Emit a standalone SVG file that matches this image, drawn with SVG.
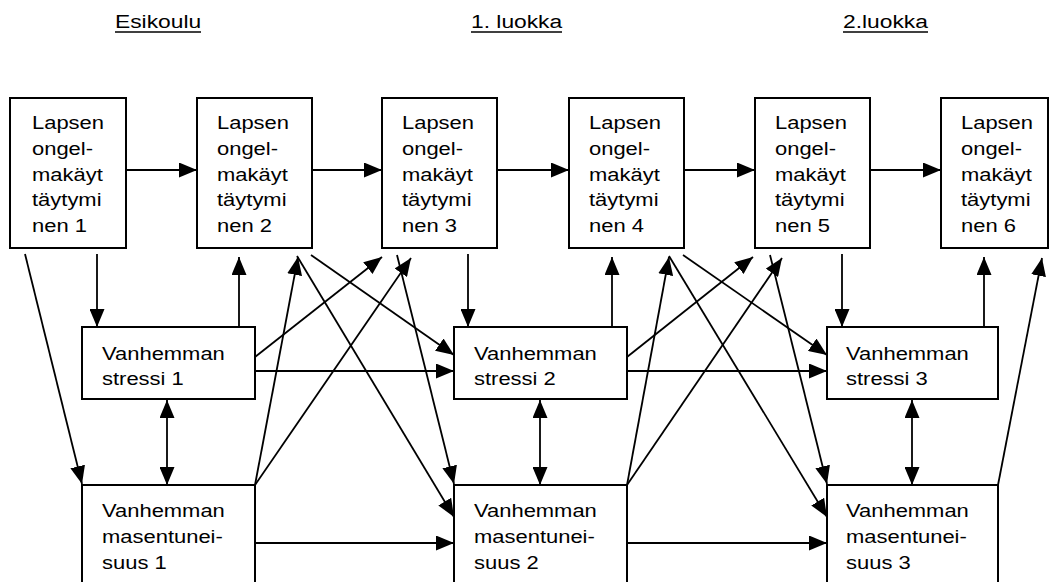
<svg xmlns="http://www.w3.org/2000/svg" width="1050" height="582" viewBox="0 0 1050 582">
  <style>
    .box { fill: #fff; stroke: #000; stroke-width: 2; }
    .t { font-family: "Liberation Sans", Arial, sans-serif; font-size: 18.3px; fill: #000; }
    .h { font-family: "Liberation Sans", Arial, sans-serif; font-size: 19px; fill: #000; }
    .uline { stroke: #000; stroke-width: 1.4; }
    #connectors line { stroke: #000; stroke-width: 1.8; fill: none; marker-end: url(#arrow); }
    #connectors line.both { marker-start: url(#arrow); }
  </style>
  <defs>
    <marker id="arrow" markerUnits="userSpaceOnUse" markerWidth="18" markerHeight="15" refX="18" refY="7.5" orient="auto-start-reverse" viewBox="0 0 18 15">
      <path d="M0,0 L18,7.5 L0,15 z" fill="#000"/>
    </marker>
  </defs>
  <rect width="1050" height="582" fill="#fff"/>

  <!-- period headings -->
  <g id="headings">
    <text class="h" transform="translate(115,0) scale(1.2,1)" y="28">Esikoulu</text>
    <line class="uline" x1="115" y1="32" x2="201" y2="32"/>
    <text class="h" transform="translate(471,0) scale(1.2,1)" y="28">1. luokka</text>
    <line class="uline" x1="471" y1="32" x2="562" y2="32"/>
    <text class="h" transform="translate(843,0) scale(1.2,1)" y="28">2.luokka</text>
    <line class="uline" x1="843" y1="32" x2="928" y2="32"/>
  </g>

  <!-- connectors -->
  <g id="connectors">
    <!-- child problems chain -->
    <line x1="126" y1="170" x2="197" y2="170"/>
    <line x1="312" y1="170" x2="382" y2="170"/>
    <line x1="497" y1="170" x2="569" y2="170"/>
    <line x1="684" y1="170" x2="755" y2="170"/>
    <line x1="870" y1="170" x2="941" y2="170"/>

    <!-- child -> stress (vertical) -->
    <line x1="97" y1="254" x2="97" y2="327"/>
    <line x1="468" y1="254" x2="468" y2="327"/>
    <line x1="842" y1="254" x2="842" y2="327"/>
    <!-- stress -> child (vertical) -->
    <line x1="239" y1="327" x2="239" y2="257"/>
    <line x1="612" y1="327" x2="612" y2="257"/>
    <line x1="984" y1="327" x2="984" y2="257"/>

    <!-- stress <-> depression -->
    <line class="both" x1="167" y1="400" x2="167" y2="485"/>
    <line class="both" x1="540" y1="400" x2="540" y2="485"/>
    <line class="both" x1="912" y1="400" x2="912" y2="485"/>

    <!-- child -> depression, same period -->
    <line x1="25" y1="254" x2="82" y2="484"/>
    <line x1="397" y1="255" x2="454" y2="484"/>
    <line x1="770" y1="255" x2="827" y2="484"/>

    <!-- depression -> next child measurement -->
    <line x1="255" y1="485" x2="298" y2="257"/>
    <line x1="627" y1="485" x2="669" y2="257"/>
    <line x1="998" y1="485" x2="1042" y2="258"/>

    <!-- depression -> child, next period -->
    <line x1="255" y1="485" x2="411" y2="258"/>
    <line x1="627" y1="485" x2="782" y2="258"/>

    <!-- stress -> child, next period -->
    <line x1="255" y1="357" x2="382" y2="257"/>
    <line x1="627" y1="357" x2="753" y2="257"/>

    <!-- child -> stress, next period -->
    <line x1="311" y1="255" x2="454" y2="355"/>
    <line x1="683" y1="255" x2="827" y2="355"/>

    <!-- child -> depression, next period -->
    <line x1="297" y1="256" x2="454" y2="517"/>
    <line x1="669" y1="256" x2="827" y2="517"/>

    <!-- stability paths -->
    <line x1="255" y1="371" x2="454" y2="371"/>
    <line x1="627" y1="371" x2="827" y2="371"/>
    <line x1="255" y1="543" x2="454" y2="543"/>
    <line x1="627" y1="543" x2="827" y2="543"/>
  </g>

  <!-- child problem behaviour nodes -->
  <g id="lapsi1">
    <rect class="box" x="10" y="98" width="116" height="150"/>
    <text class="t" transform="translate(32,0) scale(1.2,1)"><tspan x="0" y="129">Lapsen</tspan><tspan x="0" y="155">ongel-</tspan><tspan x="0" y="181">makäyt</tspan><tspan x="0" y="206">täytymi</tspan><tspan x="0" y="232">nen 1</tspan></text>
  </g>
  <g id="lapsi2">
    <rect class="box" x="197" y="98" width="115" height="150"/>
    <text class="t" transform="translate(217,0) scale(1.2,1)"><tspan x="0" y="129">Lapsen</tspan><tspan x="0" y="155">ongel-</tspan><tspan x="0" y="181">makäyt</tspan><tspan x="0" y="206">täytymi</tspan><tspan x="0" y="232">nen 2</tspan></text>
  </g>
  <g id="lapsi3">
    <rect class="box" x="382" y="98" width="115" height="150"/>
    <text class="t" transform="translate(402,0) scale(1.2,1)"><tspan x="0" y="129">Lapsen</tspan><tspan x="0" y="155">ongel-</tspan><tspan x="0" y="181">makäyt</tspan><tspan x="0" y="206">täytymi</tspan><tspan x="0" y="232">nen 3</tspan></text>
  </g>
  <g id="lapsi4">
    <rect class="box" x="569" y="98" width="115" height="150"/>
    <text class="t" transform="translate(589,0) scale(1.2,1)"><tspan x="0" y="129">Lapsen</tspan><tspan x="0" y="155">ongel-</tspan><tspan x="0" y="181">makäyt</tspan><tspan x="0" y="206">täytymi</tspan><tspan x="0" y="232">nen 4</tspan></text>
  </g>
  <g id="lapsi5">
    <rect class="box" x="755" y="98" width="115" height="150"/>
    <text class="t" transform="translate(775,0) scale(1.2,1)"><tspan x="0" y="129">Lapsen</tspan><tspan x="0" y="155">ongel-</tspan><tspan x="0" y="181">makäyt</tspan><tspan x="0" y="206">täytymi</tspan><tspan x="0" y="232">nen 5</tspan></text>
  </g>
  <g id="lapsi6">
    <rect class="box" x="941" y="98" width="107" height="150"/>
    <text class="t" transform="translate(961,0) scale(1.2,1)"><tspan x="0" y="129">Lapsen</tspan><tspan x="0" y="155">ongel-</tspan><tspan x="0" y="181">makäyt</tspan><tspan x="0" y="206">täytymi</tspan><tspan x="0" y="232">nen 6</tspan></text>
  </g>

  <!-- parental stress nodes -->
  <g id="stressi1">
    <rect class="box" x="82" y="327" width="173" height="72"/>
    <text class="t" transform="translate(102,0) scale(1.2,1)"><tspan x="0" y="360">Vanhemman</tspan><tspan x="0" y="385">stressi 1</tspan></text>
  </g>
  <g id="stressi2">
    <rect class="box" x="454" y="327" width="173" height="72"/>
    <text class="t" transform="translate(474,0) scale(1.2,1)"><tspan x="0" y="360">Vanhemman</tspan><tspan x="0" y="385">stressi 2</tspan></text>
  </g>
  <g id="stressi3">
    <rect class="box" x="827" y="327" width="171" height="72"/>
    <text class="t" transform="translate(846,0) scale(1.2,1)"><tspan x="0" y="360">Vanhemman</tspan><tspan x="0" y="385">stressi 3</tspan></text>
  </g>

  <!-- parental depression nodes (run past the lower edge) -->
  <g id="masennus1">
    <rect class="box" x="82" y="485" width="173" height="130"/>
    <text class="t" transform="translate(102,0) scale(1.2,1)"><tspan x="0" y="517">Vanhemman</tspan><tspan x="0" y="543">masentunei-</tspan><tspan x="0" y="569">suus 1</tspan></text>
  </g>
  <g id="masennus2">
    <rect class="box" x="454" y="485" width="173" height="130"/>
    <text class="t" transform="translate(474,0) scale(1.2,1)"><tspan x="0" y="517">Vanhemman</tspan><tspan x="0" y="543">masentunei-</tspan><tspan x="0" y="569">suus 2</tspan></text>
  </g>
  <g id="masennus3">
    <rect class="box" x="827" y="485" width="171" height="130"/>
    <text class="t" transform="translate(846,0) scale(1.2,1)"><tspan x="0" y="517">Vanhemman</tspan><tspan x="0" y="543">masentunei-</tspan><tspan x="0" y="569">suus 3</tspan></text>
  </g>
</svg>
